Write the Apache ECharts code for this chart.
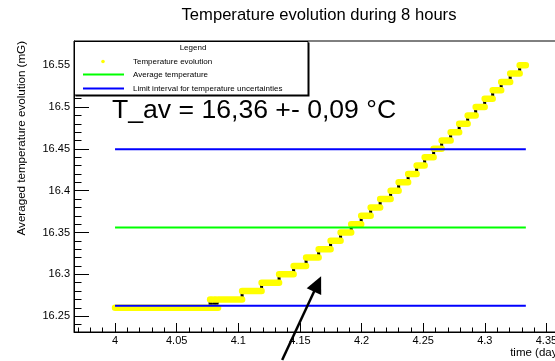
<!DOCTYPE html>
<html>
<head>
<meta charset="utf-8">
<script src="https://cdn.jsdelivr.net/npm/echarts@6/dist/echarts.min.js"></script>
<style>
  html, body { margin: 0; padding: 0; background: #fff; }
  #chart { width: 555px; height: 361px; }
</style>
</head>
<body>
<div id="chart"></div>
<script>
// time (days) at which the averaged value changes, and the value it takes (mG)
const changeTimes = [
  4.0, 4.0771, 4.0787, 4.0804, 4.0820, 4.0836, 4.1031, 4.1189, 4.1331, 4.1449,
  4.1550, 4.1652, 4.1749, 4.1830, 4.1916, 4.1997, 4.2074, 4.2151, 4.2236, 4.2301,
  4.2378, 4.2447, 4.2512, 4.2585, 4.2650, 4.2723, 4.2792, 4.2861, 4.2926, 4.2999,
  4.3064, 4.3133, 4.3206, 4.3283
];
const changeLevels = [
  16.26, 16.27, 16.26, 16.27, 16.26, 16.27, 16.28, 16.29, 16.30, 16.31,
  16.32, 16.33, 16.34, 16.35, 16.36, 16.37, 16.38, 16.39, 16.40, 16.41,
  16.42, 16.43, 16.44, 16.45, 16.46, 16.47, 16.48, 16.49, 16.50, 16.51,
  16.52, 16.53, 16.54, 16.55
];
const endTime = 4.3333;

const avgTemp = 16.356;
const limitLow = 16.2625;
const limitHigh = 16.4495;
const refStart = 4.0;
const refEnd = 4.3333;

const xTickValues = [4, 4.05, 4.1, 4.15, 4.2, 4.25, 4.3, 4.35];
const yTickValues = [16.25, 16.3, 16.35, 16.4, 16.45, 16.5, 16.55];

const xMin = 3.9667, xMax = 4.3667;
const yMin = 16.231, yMax = 16.579;

// minor ticks every 0.01
const xMinor = [];
for (let v = 397; v <= 436; v++) xMinor.push(v / 100);
const yMinor = [];
for (let v = 1624; v <= 1657; v++) yMinor.push(v / 100);

const font = "'Liberation Sans', Arial, sans-serif";

const stepLine = changeTimes.map((t, i) => [t, changeLevels[i]]);
stepLine.push([endTime, changeLevels[changeLevels.length - 1]]);

// one horizontal piece per constant level, separated by empty values
const bands = [];
changeTimes.forEach((t, i) => {
  const next = i + 1 < changeTimes.length ? changeTimes[i + 1] : endTime;
  bands.push([t, changeLevels[i]], [next, changeLevels[i]], [next, "-"]);
});

const chart = echarts.init(document.getElementById("chart"), null, { renderer: "canvas" });

const gridRect = { left: 74, top: 41, width: 493, height: 291 };

chart.setOption({
  animation: false,
  backgroundColor: "#fff",
  grid: [
    Object.assign({ show: true, borderColor: "#000", borderWidth: 1, backgroundColor: "transparent",
      containLabel: false, outerBoundsMode: "none" }, gridRect),
    Object.assign({ show: false, containLabel: false, outerBoundsMode: "none" }, gridRect)
  ],
  xAxis: [
    {
      type: "value", gridIndex: 0, min: xMin, max: xMax, position: "bottom",
      axisLine: { show: true, onZero: false, lineStyle: { color: "#000", width: 1 } },
      axisTick: { show: true, inside: true, length: 9, customValues: xTickValues, lineStyle: { color: "#000" } },
      axisLabel: {
        show: true, customValues: xTickValues, margin: 3, color: "#000", fontSize: 11, fontFamily: font,
        formatter: (v) => String(parseFloat(Number(v).toFixed(3)))
      },
      splitLine: { show: false }
    },
    {
      type: "value", gridIndex: 1, min: xMin, max: xMax, position: "bottom",
      axisLine: { show: false, onZero: false },
      axisTick: { show: true, inside: true, length: 4.5, customValues: xMinor, lineStyle: { color: "#000" } },
      axisLabel: { show: false },
      splitLine: { show: false }
    }
  ],
  yAxis: [
    {
      type: "value", gridIndex: 0, min: yMin, max: yMax, position: "left",
      axisLine: { show: true, onZero: false, lineStyle: { color: "#000", width: 1 } },
      axisTick: { show: true, inside: true, length: 15, customValues: yTickValues, lineStyle: { color: "#000" } },
      axisLabel: {
        show: true, customValues: yTickValues, margin: 4, color: "#000", fontSize: 11, fontFamily: font,
        formatter: (v) => String(parseFloat(Number(v).toFixed(3)))
      },
      splitLine: { show: false }
    },
    {
      type: "value", gridIndex: 1, min: yMin, max: yMax, position: "left",
      axisLine: { show: false, onZero: false },
      axisTick: { show: true, inside: true, length: 7.5, customValues: yMinor, lineStyle: { color: "#000" } },
      axisLabel: { show: false },
      splitLine: { show: false }
    }
  ],
  series: [
    {
      name: "graph line", type: "line", xAxisIndex: 0, yAxisIndex: 0,
      data: stepLine, step: "end", showSymbol: false, silent: true, z: 2,
      lineStyle: { color: "#000", width: 3 }
    },
    {
      name: "Temperature evolution", type: "line", xAxisIndex: 0, yAxisIndex: 0,
      data: bands, connectNulls: false, showSymbol: false, silent: true, z: 3,
      lineStyle: { color: "#ffff00", width: 6.5, cap: "round", join: "round" }
    },
    {
      name: "Average temperature", type: "line", data: [[refStart, avgTemp], [refEnd, avgTemp]],
      showSymbol: false, silent: true, z: 4, lineStyle: { color: "#00ff00", width: 2 }
    },
    {
      name: "Limit low", type: "line", data: [[refStart, limitLow], [refEnd, limitLow]],
      showSymbol: false, silent: true, z: 4, lineStyle: { color: "#0000ff", width: 2 }
    },
    {
      name: "Limit high", type: "line", data: [[refStart, limitHigh], [refEnd, limitHigh]],
      showSymbol: false, silent: true, z: 4, lineStyle: { color: "#0000ff", width: 2 }
    }
  ]
});

// arrow pointing at the curve (data coords of tip and tail)
const tip = chart.convertToPixel({ gridIndex: 0 }, [4.1672, 16.2976]);
const tail = chart.convertToPixel({ gridIndex: 0 }, [4.1356, 16.1976]);
const dx = tip[0] - tail[0], dy = tip[1] - tail[1];
const len = Math.sqrt(dx * dx + dy * dy);
const ux = dx / len, uy = dy / len;
const headLen = 17, headHalf = 8;
const bx = tip[0] - ux * headLen, by = tip[1] - uy * headLen;

const txt = (x, y, text, size, align, extra) => Object.assign({
  type: "text", x: x, y: y, z: 100,
  style: { text: text, fill: "#000", font: size + "px " + font, align: align, verticalAlign: "middle" }
}, extra || {});

chart.setOption({
  graphic: [
    txt(319, 15, "Temperature evolution during 8 hours", 16.6, "center"),
    txt(112, 111, "T_av = 16,36 +- 0,09 \u00b0C", 26.6, "left"),
    txt(22, 41, "Averaged temperature evolution (mG)", 11.6, "right", { rotation: Math.PI / 2 }),
    txt(567, 353, "time (days)", 11.5, "right"),
    // legend box
    { type: "rect", z: 90, shape: { x: 75.5, y: 42.5, width: 234, height: 54 }, style: { fill: "#000" } },
    { type: "rect", z: 91, shape: { x: 74.5, y: 41.5, width: 233.5, height: 53.5 }, style: { fill: "#fff", stroke: "#000", lineWidth: 1 } },
    txt(193, 47.5, "Legend", 8, "center"),
    { type: "circle", z: 100, shape: { cx: 103, cy: 61.5, r: 1.8 }, style: { fill: "#ffff00" } },
    txt(133, 61.7, "Temperature evolution", 8, "left"),
    { type: "line", z: 100, shape: { x1: 83, y1: 74.5, x2: 124, y2: 74.5 }, style: { stroke: "#00ff00", lineWidth: 2 } },
    txt(133, 74.3, "Average temperature", 8, "left"),
    { type: "line", z: 100, shape: { x1: 83, y1: 88.5, x2: 124, y2: 88.5 }, style: { stroke: "#0000ff", lineWidth: 2 } },
    txt(133, 88.3, "Limit interval for temperature uncertainties", 8, "left"),
    // arrow
    { type: "line", z: 100, shape: { x1: tail[0], y1: tail[1], x2: bx + ux * 2, y2: by + uy * 2 }, style: { stroke: "#000", lineWidth: 2.5 } },
    { type: "polygon", z: 100, shape: { points: [
        [tip[0], tip[1]],
        [bx - uy * headHalf, by + ux * headHalf],
        [bx + uy * headHalf, by - ux * headHalf]
      ] }, style: { fill: "#000" } }
  ]
});
</script>
</body>
</html>
